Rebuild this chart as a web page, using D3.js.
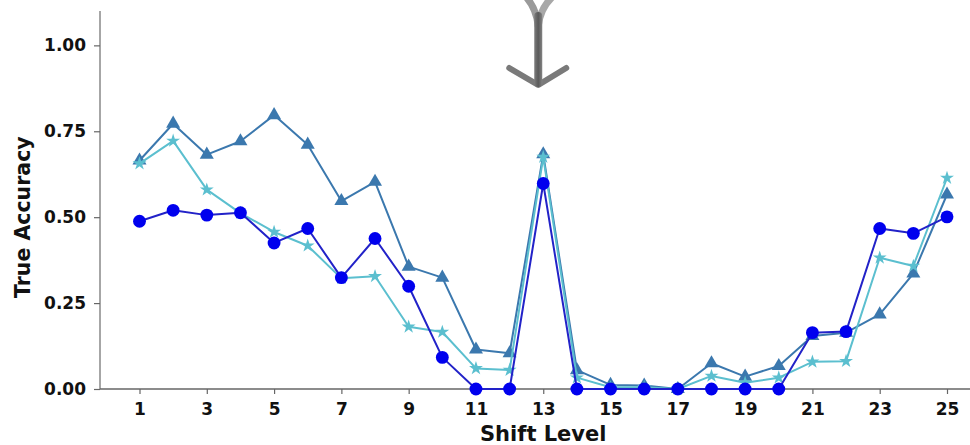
<!DOCTYPE html>
<html>
<head>
<meta charset="utf-8">
<script src="https://cdn.jsdelivr.net/npm/d3@7"></script>
<style>
  body { margin: 0; background: #fff; }
  svg { display: block; font-family: "DejaVu Sans", sans-serif; }
</style>
</head>
<body>
<svg id="chart" width="970" height="445"></svg>
<script>
var width = 970,
  height = 445;

// shift levels 1..25
const levels = d3.range(1, 26);
const xTicks = [1, 3, 5, 7, 9, 11, 13, 15, 17, 19, 21, 23, 25];
const yTicks = [0, 0.25, 0.5, 0.75, 1.0];

// series
const triangleVals = [0.665, 0.772, 0.682, 0.721, 0.797, 0.711, 0.547, 0.603, 0.356, 0.324,
  0.115, 0.104, 0.683, 0.055, 0.012, 0.01, 0.0, 0.075, 0.036, 0.067,
  0.154, 0.164, 0.217, 0.336, 0.566];
const starVals = [0.656, 0.722, 0.58, 0.512, 0.457, 0.417, 0.322, 0.328, 0.181, 0.166,
  0.06, 0.055, 0.675, 0.033, 0.005, 0.005, 0.0, 0.038, 0.018, 0.033,
  0.079, 0.081, 0.382, 0.358, 0.614];
const circleVals = [0.488, 0.52, 0.506, 0.513, 0.425, 0.467, 0.324, 0.438, 0.299, 0.092,
  0.0, 0.0, 0.598, 0.0, 0.0, 0.0, 0.0, 0.0, 0.0, 0.0,
  0.164, 0.167, 0.467, 0.453, 0.501];

const series = [
  { name: "triangle", values: triangleVals, line: "#3b78ae", fill: "#3b78ae", symbol: d3.symbolTriangle, size: 85 },
  { name: "star", values: starVals, line: "#5bbfcf", fill: "#5bbfcf", symbol: d3.symbolStar, size: 60 },
  { name: "circle", values: circleVals, line: "#2222c8", fill: "#0000ee", symbol: d3.symbolCircle, size: 130 }
];

const svg = d3.select("#chart");

const x = d3.scaleLinear().domain([1, 25]).range([139.5, 947]);
const y = d3.scaleLinear().domain([0, 1.1]).range([389, 11]);

// spines
svg.append("line")
  .attr("x1", 100).attr("x2", 100)
  .attr("y1", y(1.1)).attr("y2", y(0))
  .attr("stroke", "#888").attr("stroke-width", 1.5);
svg.append("line")
  .attr("x1", 100).attr("x2", width)
  .attr("y1", y(0)).attr("y2", y(0))
  .attr("stroke", "#666").attr("stroke-width", 1.5);

// y axis
const yAxis = svg.append("g")
  .attr("transform", "translate(100,0)")
  .call(d3.axisLeft(y).tickValues(yTicks).tickFormat(d3.format(".2f")).tickSize(6).tickPadding(8));
yAxis.select(".domain").remove();

// x axis
const xAxis = svg.append("g")
  .attr("transform", `translate(0,${y(0)})`)
  .call(d3.axisBottom(x).tickValues(xTicks).tickFormat(d3.format("d")).tickSize(5).tickPadding(9));
xAxis.select(".domain").remove();

[xAxis, yAxis].forEach((g) => g.attr("font-family", "DejaVu Sans").attr("font-size", 17));
svg.selectAll(".tick line").attr("stroke", "#666").attr("stroke-width", 1.2);
svg.selectAll(".tick text")
  .attr("fill", "#111")
  .attr("font-weight", "bold");

// axis titles
svg.append("text")
  .attr("x", x(13))
  .attr("y", 441)
  .attr("text-anchor", "middle")
  .attr("font-size", 21)
  .attr("font-weight", "bold")
  .attr("fill", "#111")
  .text("Shift Level");

svg.append("text")
  .attr("transform", `translate(30,${y(0.5)}) rotate(-90)`)
  .attr("text-anchor", "middle")
  .attr("font-size", 20.5)
  .attr("font-weight", "bold")
  .attr("fill", "#111")
  .text("True Accuracy");

// lines and markers
const line = d3.line()
  .x((d, i) => x(levels[i]))
  .y((d) => y(d));

series.forEach((s) => {
  svg.append("path")
    .datum(s.values)
    .attr("fill", "none")
    .attr("stroke", s.line)
    .attr("stroke-width", 2)
    .attr("stroke-linejoin", "round")
    .attr("d", line);

  svg.append("g")
    .selectAll("path")
    .data(s.values)
    .join("path")
    .attr("transform", (d, i) => `translate(${x(levels[i])},${y(d)})`)
    .attr("d", d3.symbol().type(s.symbol).size(s.size))
    .attr("fill", s.fill);
});

// gray arrow pointing at level 13
const ax = x(13) - 5;
const grad = svg.append("defs").append("linearGradient")
  .attr("id", "arrowGrad")
  .attr("gradientUnits", "userSpaceOnUse")
  .attr("x1", ax - 8).attr("x2", ax + 8).attr("y1", 0).attr("y2", 0);
grad.append("stop").attr("offset", "0%").attr("stop-color", "#a0a0a0");
grad.append("stop").attr("offset", "50%").attr("stop-color", "#5a5a5a");
grad.append("stop").attr("offset", "100%").attr("stop-color", "#ababab");

const arrow = svg.append("g")
  .attr("fill", "none")
  .attr("stroke-linecap", "round")
  .attr("stroke-linejoin", "round");
arrow.append("path")
  .attr("stroke", "#9a9a9a").attr("stroke-width", 7)
  .attr("d", `M${ax - 13},-4 Q${ax - 2},8 ${ax},26`);
arrow.append("path")
  .attr("stroke", "#a8a8a8").attr("stroke-width", 7)
  .attr("d", `M${ax + 15},-4 Q${ax + 2},8 ${ax},26`);
arrow.append("path")
  .attr("stroke", "#7a7a7a").attr("stroke-width", 6)
  .attr("d", `M${ax - 29},68 L${ax},85 L${ax + 28},68`);
arrow.append("path")
  .attr("stroke", "url(#arrowGrad)").attr("stroke-width", 8)
  .attr("d", `M${ax},16 L${ax},83`);
</script>
</body>
</html>
